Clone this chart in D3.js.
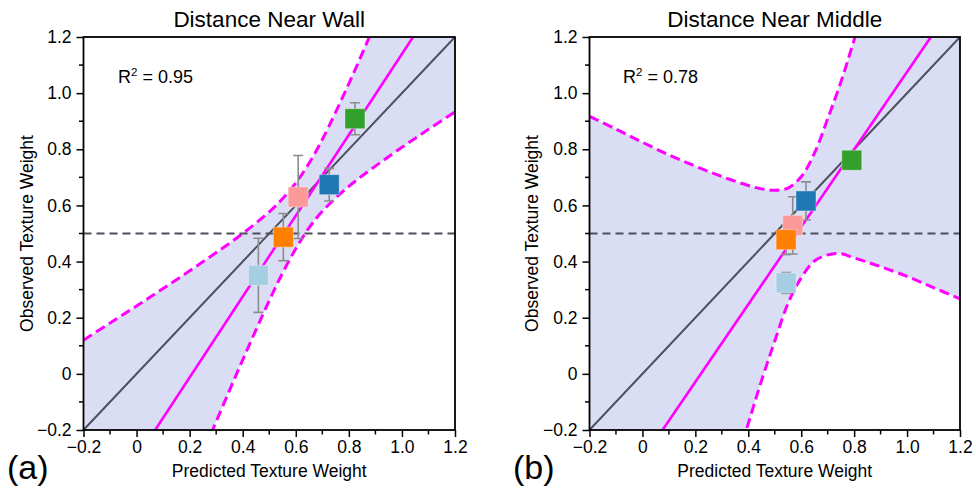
<!DOCTYPE html>
<html>
<head>
<meta charset="utf-8">
<script src="https://cdn.jsdelivr.net/npm/d3@7"></script>
<style>
  html, body { margin: 0; padding: 0; background: #fff; }
  svg { display: block; font-family: "Liberation Sans", Arial, Helvetica, sans-serif; }
</style>
</head>
<body>
<svg id="chart" width="976" height="489"></svg>
<script>
// ---------- data ----------
const tickValues = [-0.2, 0, 0.2, 0.4, 0.6, 0.8, 1.0, 1.2];
const tickLabels = ["\u22120.2", "0", "0.2", "0.4", "0.6", "0.8", "1.0", "1.2"];
const minorTicks = [-0.1, 0.1, 0.3, 0.5, 0.7, 0.9, 1.1];

// drawing order: pink, light blue, orange, blue, green
const pointColors = ["#fb9a99", "#a6cee3", "#ff7f00", "#1f78b4", "#33a02c"];

const wallTitle = "Distance Near Wall";
const wallR2 = "0.95";
const wallX = [0.609, 0.459, 0.553, 0.726, 0.823];
const wallY = [0.630, 0.351, 0.487, 0.674, 0.909];
const wallErr = [0.148, 0.132, 0.084, 0.058, 0.057];
const wallFit = [[0.070, -0.2], [1.042, 1.2]];
const wallBandX =     [-0.2, -0.1, 0, 0.1, 0.2, 0.3, 0.4, 0.5, 0.55, 0.6, 0.65, 0.7, 0.8, 0.9, 1.0, 1.1, 1.2];
const wallBandUpper = [0.120, 0.181, 0.242, 0.304, 0.367, 0.432, 0.500, 0.577, 0.624, 0.680, 0.750, 0.835, 1.034, 1.250, 1.471, 1.695, 1.921];
const wallBandLower = [-1.298, -1.071, -0.844, -0.618, -0.393, -0.170, 0.050, 0.261, 0.359, 0.446, 0.520, 0.579, 0.668, 0.740, 0.807, 0.871, 0.933];

const middleTitle = "Distance Near Middle";
const middleR2 = "0.78";
const middleX = [0.568, 0.543, 0.543, 0.618, 0.791];
const middleY = [0.529, 0.324, 0.478, 0.616, 0.761];
const middleErr = [0.102, 0.037, 0.053, 0.068, 0.020];
const middleFit = [[0.076, -0.2], [1.090, 1.2]];
const middleBandX =     [-0.2, -0.1, 0, 0.1, 0.2, 0.3, 0.4, 0.45, 0.5, 0.55, 0.6, 0.65, 0.7, 0.75, 0.8, 0.85, 0.9, 1.0, 1.1, 1.2];
const middleBandUpper = [0.917, 0.872, 0.825, 0.780, 0.740, 0.703, 0.671, 0.659, 0.654, 0.662, 0.702, 0.786, 0.909, 1.040, 1.190, 1.350, 1.520, 1.900, 2.300, 2.700];
const middleBandLower = [-2.200, -1.850, -1.500, -1.160, -0.820, -0.490, -0.177, -0.024, 0.117, 0.251, 0.342, 0.402, 0.424, 0.428, 0.413, 0.398, 0.382, 0.347, 0.307, 0.267];

const identityLine = [[-0.2, -0.2], [1.2, 1.2]];
const chanceLevel = 0.5;
const domain = [-0.2, 1.2];

// ---------- drawing ----------
const svg = d3.select("#chart");

function drawPanel(cfg) {
  const x = d3.scaleLinear().domain(domain).range([cfg.left, cfg.right]);
  const y = d3.scaleLinear().domain(domain).range([430, 37]);
  const g = svg.append("g");

  const clipId = "clip-" + cfg.id;
  svg.append("defs").append("clipPath").attr("id", clipId)
    .append("rect")
    .attr("x", x(domain[0])).attr("y", y(domain[1]))
    .attr("width", x(domain[1]) - x(domain[0]))
    .attr("height", y(domain[0]) - y(domain[1]));

  const plot = g.append("g").attr("clip-path", `url(#${clipId})`);

  const band = cfg.bandX.map((v, i) => ({ x: v, hi: cfg.bandUpper[i], lo: cfg.bandLower[i] }));
  const curve = d3.curveCatmullRom.alpha(0.5);

  plot.append("path")
    .datum(band)
    .attr("fill", "#dadef5")
    .attr("d", d3.area().curve(curve).x(d => x(d.x)).y0(d => y(d.lo)).y1(d => y(d.hi)));

  const lineHi = d3.line().curve(curve).x(d => x(d.x)).y(d => y(d.hi));
  const lineLo = d3.line().curve(curve).x(d => x(d.x)).y(d => y(d.lo));
  [lineHi, lineLo].forEach(l => {
    plot.append("path").datum(band)
      .attr("fill", "none").attr("stroke", "#ff00ff")
      .attr("stroke-width", 3).attr("stroke-dasharray", "10,5")
      .attr("d", l);
  });

  const seg = d3.line().x(d => x(d[0])).y(d => y(d[1]));

  plot.append("path").datum(identityLine)
    .attr("fill", "none").attr("stroke", "#4d4d5c").attr("stroke-width", 2)
    .attr("d", seg);

  plot.append("line")
    .attr("x1", x(domain[0])).attr("x2", x(domain[1]))
    .attr("y1", y(chanceLevel)).attr("y2", y(chanceLevel))
    .attr("stroke", "#4d4d5c").attr("stroke-width", 2)
    .attr("stroke-dasharray", "8,5");

  plot.append("path").datum(cfg.fit)
    .attr("fill", "none").attr("stroke", "#ff00ff").attr("stroke-width", 2.6)
    .attr("d", seg);

  // error bars
  const pts = cfg.px.map((v, i) => ({ x: v, y: cfg.py[i], e: cfg.err[i], c: pointColors[i] }));
  const eb = plot.append("g").attr("stroke", "#8c8c8c").attr("stroke-width", 1.6);
  pts.forEach(p => {
    eb.append("line").attr("x1", x(p.x)).attr("x2", x(p.x))
      .attr("y1", y(p.y - p.e)).attr("y2", y(p.y + p.e));
    [p.y - p.e, p.y + p.e].forEach(v => {
      eb.append("line").attr("x1", x(p.x) - 5).attr("x2", x(p.x) + 5)
        .attr("y1", y(v)).attr("y2", y(v));
    });
  });

  // markers
  const s = 20;
  plot.append("g").selectAll("rect").data(pts).join("rect")
    .attr("x", d => x(d.x) - s / 2).attr("y", d => y(d.y) - s / 2)
    .attr("width", s).attr("height", s)
    .attr("fill", d => d.c)
    .attr("stroke", "rgba(255,255,255,0.35)").attr("stroke-width", 1);

  // axes
  const xAxis = d3.axisBottom(x).tickValues(tickValues)
    .tickFormat((d, i) => tickLabels[i]).tickSize(7).tickPadding(4);
  const yAxis = d3.axisLeft(y).tickValues(tickValues)
    .tickFormat((d, i) => tickLabels[i]).tickSize(7).tickPadding(5);

  const gx = g.append("g").attr("transform", `translate(0,${y(domain[0])})`).call(xAxis);
  const gy = g.append("g").attr("transform", `translate(${x(domain[0])},0)`).call(yAxis);
  [gx, gy].forEach(a => {
    a.select(".domain").remove();
    a.selectAll("line").attr("stroke", "#000").attr("stroke-width", 1.5);
    a.selectAll("text").attr("font-size", 17.5).attr("fill", "#000")
      .attr("font-family", "'Liberation Sans', Arial, sans-serif");
  });
  gx.append("g").selectAll("line").data(minorTicks).join("line")
    .attr("x1", d => x(d)).attr("x2", d => x(d)).attr("y1", 0).attr("y2", 4.5)
    .attr("stroke", "#000").attr("stroke-width", 1.5);
  gy.append("g").selectAll("line").data(minorTicks).join("line")
    .attr("y1", d => y(d)).attr("y2", d => y(d)).attr("x1", 0).attr("x2", -4.5)
    .attr("stroke", "#000").attr("stroke-width", 1.5);

  // frame
  g.append("rect")
    .attr("x", x(domain[0])).attr("y", y(domain[1]))
    .attr("width", x(domain[1]) - x(domain[0]))
    .attr("height", y(domain[0]) - y(domain[1]))
    .attr("fill", "none").attr("stroke", "#000").attr("stroke-width", 1.8);

  // texts
  const cx = (x(domain[0]) + x(domain[1])) / 2;
  g.append("text").attr("x", cx).attr("y", 27).attr("text-anchor", "middle")
    .attr("font-size", 22.5).text(cfg.title);

  g.append("text").attr("x", cx).attr("y", 477).attr("text-anchor", "middle")
    .attr("font-size", 17.5).text("Predicted Texture Weight");

  g.append("text")
    .attr("transform", `translate(${cfg.yLabelX},${(y(domain[0]) + y(domain[1])) / 2}) rotate(-90)`)
    .attr("text-anchor", "middle").attr("font-size", 17.5)
    .text("Observed Texture Weight");

  const r2 = g.append("text").attr("x", cfg.r2X).attr("y", 83).attr("font-size", 18);
  r2.append("tspan").text("R");
  r2.append("tspan").attr("dy", -7).attr("font-size", 11.5).text("2");
  r2.append("tspan").attr("dy", 7).text(" = " + cfg.r2);

  g.append("text").attr("x", cfg.letterX).attr("y", 479).attr("font-size", 34)
    .text(cfg.letter);
}

drawPanel({
  id: "wall", left: 83.5, right: 455, title: wallTitle, r2: wallR2,
  px: wallX, py: wallY, err: wallErr, fit: wallFit,
  bandX: wallBandX, bandUpper: wallBandUpper, bandLower: wallBandLower,
  yLabelX: 33, r2X: 118, letterX: 7, letter: "(a)"
});
drawPanel({
  id: "middle", left: 589.5, right: 960, title: middleTitle, r2: middleR2,
  px: middleX, py: middleY, err: middleErr, fit: middleFit,
  bandX: middleBandX, bandUpper: middleBandUpper, bandLower: middleBandLower,
  yLabelX: 538, r2X: 623, letterX: 513, letter: "(b)"
});
</script>
</body>
</html>
